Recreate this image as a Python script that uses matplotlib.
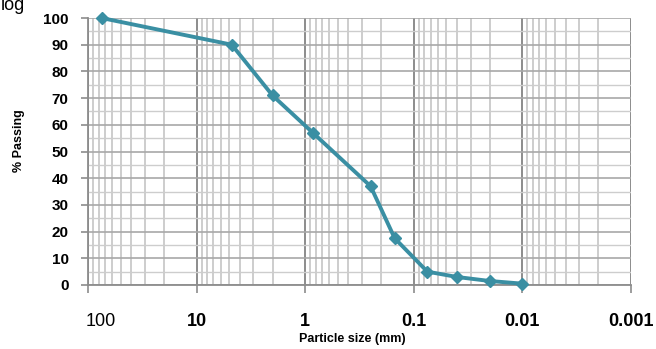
import matplotlib
matplotlib.use("Agg")
import matplotlib.pyplot as plt
import matplotlib.transforms as mtransforms
from matplotlib.ticker import LogLocator, NullFormatter, MultipleLocator
import numpy as np

# Data (particle size in mm, % passing)
particle_size = [75, 4.75, 2.0, 0.85, 0.25, 0.15, 0.075, 0.04, 0.02, 0.01]
percent_passing = [100, 90, 71, 57, 37, 17.5, 5, 3, 1.5, 0.5]

x_ticks = [100, 10, 1, 0.1, 0.01, 0.001]
x_tick_labels = ["100", "10", "1", "0.1", "0.01", "0.001"]
y_ticks = [0, 10, 20, 30, 40, 50, 60, 70, 80, 90, 100]

W, H = 656, 349
fig = plt.figure(figsize=(W / 100, H / 100), dpi=100)
ax = fig.add_axes([88 / W, (H - 285) / H, (631 - 88) / W, (285 - 18) / H])

teal = "#3a8fa3"
ax.plot(particle_size, percent_passing, color=teal, lw=2.8, marker="D",
        markersize=6.5, markerfacecolor=teal, markeredgecolor=teal, zorder=5,
        clip_on=False)

ax.set_xscale("log")
ax.set_xlim(100, 0.001)
ax.set_ylim(0, 100)

ax.xaxis.set_major_locator(LogLocator(base=10, numticks=20))
ax.xaxis.set_minor_locator(LogLocator(base=10, subs=np.arange(2, 10), numticks=100))
ax.xaxis.set_minor_formatter(NullFormatter())
ax.set_xticks(x_ticks)
ax.set_xticklabels(x_tick_labels)
ax.set_yticks(y_ticks)
ax.yaxis.set_minor_locator(MultipleLocator(5))

ax.grid(which="major", axis="x", color="#8c8c8c", lw=1.4)
ax.grid(which="minor", axis="x", color="#c0c0c0", lw=1.1)
ax.grid(which="major", axis="y", color="#a8a8a8", lw=1.2)
ax.grid(which="minor", axis="y", color="#cdcdcd", lw=1.0)
ax.set_axisbelow(True)

for s in ["top", "right"]:
    ax.spines[s].set_visible(False)
for s in ["left", "bottom"]:
    ax.spines[s].set_color("#8c8c8c")
    ax.spines[s].set_linewidth(1.3)

ax.tick_params(axis="x", which="major", length=6, width=1.2, color="#8c8c8c", pad=14)
ax.tick_params(axis="x", which="minor", length=0)
ax.tick_params(axis="y", which="major", length=5, width=1.2, color="#8c8c8c", pad=9)
ax.tick_params(axis="y", which="minor", length=0)

for lab in ax.get_yticklabels():
    lab.set_fontfamily(["Liberation Sans", "DejaVu Sans"])
    lab.set_fontweight("bold")
    lab.set_fontsize(11)

for i, lab in enumerate(ax.get_xticklabels()):
    lab.set_fontfamily(["Liberation Sans", "DejaVu Sans"])
    lab.set_fontsize(13)
    if i == 0:
        lab.set_fontweight("normal")
        lab.set_transform(lab.get_transform() + mtransforms.ScaledTranslation(0.13, 0, fig.dpi_scale_trans))
    else:
        lab.set_fontweight("bold")

fig.text(352 / W, 1 - 339 / H, "Particle size (mm)", ha="center", va="center",
         fontsize=9, fontweight="bold",
         family=["Liberation Sans", "DejaVu Sans"])
fig.text(19 / W, 1 - 141 / H, "% Passing", ha="center", va="center", rotation=90,
         fontsize=9, fontweight="bold",
         family=["Liberation Sans", "DejaVu Sans"])
fig.text(0.5 / W, 1 - 9.5 / H, "log", ha="left", va="baseline", fontsize=13,
         family=["Liberation Sans", "DejaVu Sans"])

fig.savefig("out.png", dpi=100)
